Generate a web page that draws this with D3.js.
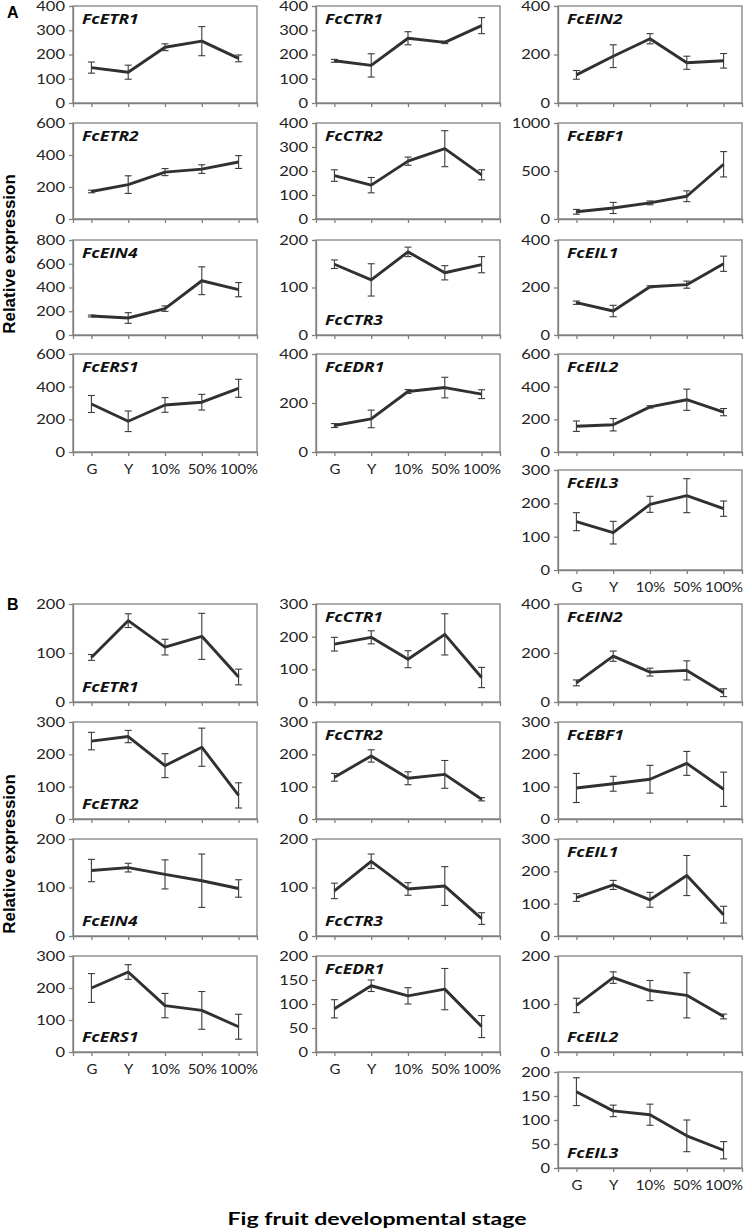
<!DOCTYPE html>
<html>
<head>
<meta charset="utf-8">
<script src="https://cdn.jsdelivr.net/npm/d3@7"></script>
<style>
  body { margin: 0; background: #fff; }
</style>
</head>
<body>
<svg id="chart" width="752" height="1232"></svg>
<script>
// Fig fruit developmental stages (x categories)
var stages = ["G", "Y", "10%", "50%", "100%"];

// Panel A
var genesA = ["FcETR1", "FcETR2", "FcEIN4", "FcERS1",
              "FcCTR1", "FcCTR2", "FcCTR3", "FcEDR1",
              "FcEIN2", "FcEBF1", "FcEIL1", "FcEIL2", "FcEIL3"];
var meansA = [
  [146, 127, 230, 255, 184],
  [172, 215, 293, 312, 356],
  [160, 143, 222, 457, 382],
  [294, 188, 288, 305, 390],
  [174, 155, 267, 250, 319],
  [181, 141, 241, 293, 184],
  [149, 116, 175, 131, 148],
  [108, 135, 247, 263, 236],
  [116, 193, 265, 166, 174],
  [75, 115, 168, 237, 570],
  [136, 101, 203, 212, 300],
  [158, 167, 276, 320, 244],
  [145, 112, 197, 223, 184]
];
var errorsA = [
  [23, 29, 14, 60, 14],
  [8, 55, 22, 27, 40],
  [8, 45, 23, 117, 60],
  [52, 63, 45, 48, 55],
  [6, 48, 27, 5, 33],
  [24, 32, 17, 75, 21],
  [9, 34, 10, 15, 17],
  [8, 36, 8, 42, 18],
  [18, 47, 21, 27, 30],
  [25, 58, 20, 56, 132],
  [7, 24, 4, 15, 32],
  [32, 38, 7, 65, 22],
  [27, 34, 24, 51, 23]
];
var yMaxA  = [400, 600, 800, 600, 400, 400, 200, 400, 400, 1000, 400, 600, 300];
var yStepA = [100, 200, 200, 200, 100, 100, 100, 200, 200, 500, 200, 200, 100];

// Panel B
var genesB = genesA.slice();
var meansB = [
  [91, 166, 112, 134, 51],
  [241, 255, 165, 222, 73],
  [135, 141, 127, 114, 98],
  [200, 250, 145, 130, 79],
  [177, 198, 131, 207, 75],
  [129, 195, 126, 138, 61],
  [93, 154, 97, 103, 36],
  [90, 138, 117, 131, 53],
  [78, 187, 122, 129, 38],
  [96, 109, 123, 172, 92],
  [119, 158, 112, 187, 66],
  [97, 155, 128, 118, 74],
  [159, 119, 111, 67, 37]
];
var errorsB = [
  [6, 14, 16, 47, 16],
  [27, 19, 37, 59, 39],
  [23, 9, 30, 55, 18],
  [45, 23, 38, 59, 39],
  [21, 20, 26, 63, 31],
  [12, 19, 20, 43, 5],
  [16, 15, 13, 40, 12],
  [19, 12, 17, 43, 23],
  [12, 21, 16, 39, 16],
  [45, 23, 43, 37, 53],
  [12, 14, 23, 62, 26],
  [15, 12, 21, 47, 5],
  [29, 12, 22, 33, 18]
];
var yMaxB  = [200, 300, 200, 300, 300, 300, 200, 200, 400, 300, 300, 200, 200];
var yStepB = [100, 100, 100, 100, 100, 100, 100, 50, 200, 100, 100, 100, 50];

// Layout
var perColumn = [4, 4, 5];
var colLeft = [73, 316, 558];
var plotW = 184;
var layoutA = { tops: [6, 123, 240, 354, 470], bottoms: [103, 219, 335, 452, 570],
                labelBottom: ["FcCTR3"] };
var layoutB = { tops: [604, 722, 839, 956, 1072], bottoms: [702, 819, 936, 1052, 1168],
                labelBottom: ["FcETR1", "FcETR2", "FcEIN4", "FcERS1", "FcCTR3", "FcEIL2", "FcEIL3"] };

var stretch = 1.32;   // reference text is horizontally widened
var tickFont = "Lato, 'Open Sans', sans-serif";
var geneFont = "'Open Sans', Lato, sans-serif";
var frameColor = "#808080";
var lineColor = "#303030";

var svg = d3.select("#chart");

function drawPanel(genes, means, errors, yMax, yStep, layout) {
  var idx = 0;
  perColumn.forEach(function(n, c) {
    for (var r = 0; r < n; r++, idx++) {
      var left = colLeft[c];
      var top = layout.tops[r];
      var bottom = layout.bottoms[r];
      var isLast = (r === n - 1);

      var x = d3.scalePoint().domain(stages).range([0, plotW]).padding(0.5);
      var y = d3.scaleLinear().domain([0, yMax[idx]]).range([bottom - top, 0]);

      var g = svg.append("g").attr("transform", "translate(" + left + "," + top + ")");

      g.append("rect")
        .attr("x", 0).attr("y", 0)
        .attr("width", plotW).attr("height", bottom - top)
        .attr("fill", "none")
        .attr("stroke", frameColor)
        .attr("stroke-width", 1.3);

      // y axis
      var ticks = d3.range(0, yMax[idx] + 1e-9, yStep[idx]);
      var yAxis = g.append("g")
        .call(d3.axisLeft(y).tickValues(ticks).tickSize(4).tickSizeOuter(0).tickFormat(d3.format("d")));
      yAxis.select(".domain").attr("stroke", frameColor).attr("stroke-width", 1.3);
      yAxis.selectAll(".tick line").attr("stroke", frameColor).attr("stroke-width", 1.3);
      yAxis.selectAll(".tick text")
        .attr("x", 0).attr("dy", "0.35em")
        .attr("transform", "translate(-8,0) scale(" + stretch + ",1)")
        .attr("fill", "#222")
        .style("font-family", tickFont)
        .style("font-size", "12.5px");

      // x axis
      var xAxis = g.append("g")
        .attr("transform", "translate(0," + (bottom - top) + ")")
        .call(d3.axisBottom(x).tickSize(4).tickSizeOuter(4));
      xAxis.select(".domain").attr("stroke", frameColor).attr("stroke-width", 1.3);
      xAxis.selectAll(".tick line").attr("stroke", frameColor).attr("stroke-width", 1.3);
      if (isLast) {
        xAxis.selectAll(".tick text")
          .attr("y", 0).attr("dy", 0)
          .attr("transform", "translate(0,22) scale(1.15,1)")
          .attr("fill", "#222")
          .style("font-family", tickFont)
          .style("font-size", "13px");
      } else {
        xAxis.selectAll(".tick text").remove();
      }

      // line
      var pts = stages.map(function(s, i) {
        return { s: s, v: means[idx][i], e: errors[idx][i] };
      });
      g.append("path")
        .datum(pts)
        .attr("fill", "none")
        .attr("stroke", lineColor)
        .attr("stroke-width", 2.9)
        .attr("stroke-linejoin", "round")
        .attr("d", d3.line().x(function(d) { return x(d.s); }).y(function(d) { return y(d.v); }));

      // error bars
      var eb = g.append("g").selectAll("g").data(pts).enter().append("g")
        .attr("stroke", "#3a3a3a").attr("stroke-width", 1.1);
      eb.append("line")
        .attr("x1", function(d) { return x(d.s); }).attr("x2", function(d) { return x(d.s); })
        .attr("y1", function(d) { return y(d.v + d.e); }).attr("y2", function(d) { return y(d.v - d.e); });
      eb.append("line")
        .attr("x1", function(d) { return x(d.s) - 3.5; }).attr("x2", function(d) { return x(d.s) + 3.5; })
        .attr("y1", function(d) { return y(d.v + d.e); }).attr("y2", function(d) { return y(d.v + d.e); });
      eb.append("line")
        .attr("x1", function(d) { return x(d.s) - 3.5; }).attr("x2", function(d) { return x(d.s) + 3.5; })
        .attr("y1", function(d) { return y(d.v - d.e); }).attr("y2", function(d) { return y(d.v - d.e); });

      // gene label
      var atBottom = layout.labelBottom.indexOf(genes[idx]) >= 0;
      var ly = atBottom ? (bottom - top - 10) : 18;
      g.append("text")
        .attr("transform", "translate(9," + ly + ") scale(1.25,1)")
        .style("font-family", geneFont)
        .style("font-size", "14px")
        .style("font-weight", "bold")
        .style("font-style", "italic")
        .attr("fill", "#111")
        .text(genes[idx]);
    }
  });
}

drawPanel(genesA, meansA, errorsA, yMaxA, yStepA, layoutA);
drawPanel(genesB, meansB, errorsB, yMaxB, yStepB, layoutB);

// panel letters
svg.append("text").attr("x", 7).attr("y", 18)
  .style("font-family", "'Liberation Sans', Arial, sans-serif")
  .style("font-size", "16px").style("font-weight", "bold").text("A");
svg.append("text").attr("x", 7).attr("y", 610)
  .style("font-family", "'Liberation Sans', Arial, sans-serif")
  .style("font-size", "16px").style("font-weight", "bold").text("B");

// y titles
[254, 854].forEach(function(cy) {
  svg.append("text")
    .attr("transform", "translate(15," + cy + ") rotate(-90)")
    .attr("text-anchor", "middle")
    .style("font-family", "'Liberation Sans', Arial, sans-serif")
    .style("font-size", "17px").style("font-weight", "bold")
    .text("Relative expression");
});

// x title
svg.append("text")
  .attr("transform", "translate(377,1225) scale(1.4,1)")
  .attr("text-anchor", "middle")
  .style("font-family", tickFont)
  .style("font-size", "16.5px").style("font-weight", "bold")
  .text("Fig fruit developmental stage");
</script>
</body>
</html>
